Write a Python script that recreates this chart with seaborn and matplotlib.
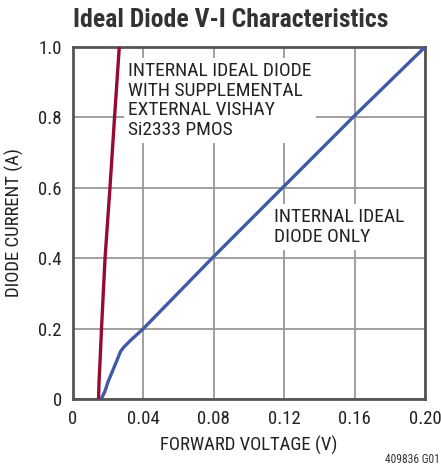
import numpy as np
import pandas as pd
import matplotlib
matplotlib.use('Agg')
import matplotlib.pyplot as plt
from matplotlib import font_manager
import seaborn as sns

# dados (V em volts, I em amperes)
v_ideal = [0.0160, 0.0180, 0.0200, 0.0225, 0.0250, 0.0270, 0.0290, 0.0330, 0.0400,
           0.0800, 0.1200, 0.1600, 0.2000]
i_ideal = [0.000, 0.020, 0.050, 0.080, 0.110, 0.135, 0.148, 0.168, 0.200,
           0.405, 0.605, 0.805, 1.000]

v_pmos = [0.0145, 0.0148, 0.0153, 0.0162, 0.0182, 0.0210, 0.0236, 0.0263]
i_pmos = [0.000, 0.050, 0.100, 0.200, 0.400, 0.600, 0.800, 1.000]

x_ticks = [0, 0.04, 0.08, 0.12, 0.16, 0.20]
x_labels = ['0', '0.04', '0.08', '0.12', '0.16', '0.20']
y_ticks = [0, 0.2, 0.4, 0.6, 0.8, 1.0]
y_labels = ['0', '0.2', '0.4', '0.6', '0.8', '1.0']

df = pd.concat([
    pd.DataFrame({'v': v_ideal, 'i': i_ideal, 'curva': 'ideal'}),
    pd.DataFrame({'v': v_pmos, 'i': i_pmos, 'curva': 'pmos'}),
])

sns.set_style('white')
nomes = {f.name for f in font_manager.fontManager.ttflist}
# fonte estreita se existir, senao Liberation Sans com tamanho menor
if 'Liberation Sans Narrow' in nomes:
    fonte, k = 'Liberation Sans Narrow', 1.0
elif 'Roboto Condensed' in nomes:
    fonte, k = 'Roboto Condensed', 1.0
else:
    fonte, k = 'Liberation Sans', 0.84
plt.rcParams['font.family'] = [fonte, 'DejaVu Sans']

fig = plt.figure(figsize=(4.41, 4.68), dpi=100)
ax = fig.add_axes([73/441, 1 - 399/468, 352/441, 352/468])

sns.lineplot(data=df, x='v', y='i', hue='curva', sort=False, estimator=None,
             palette={'ideal': '#3f5ba8', 'pmos': '#970b30'}, linewidth=2.4,
             legend=False, ax=ax, zorder=3)

ax.set_xlim(0, 0.2)
ax.set_ylim(0, 1.0)
ax.set_xticks(x_ticks)
ax.set_xticklabels(x_labels)
ax.set_yticks(y_ticks)
ax.set_yticklabels(y_labels)
ax.tick_params(length=0, labelsize=13.5 * k, colors='#222222', pad=8)
ax.grid(True, color='#999999', linewidth=1.3)
for s in ax.spines.values():
    s.set_color('#555555')
    s.set_linewidth(2.0)

ax.set_xlabel('FORWARD VOLTAGE (V)', fontsize=13.5 * k, color='#222222', labelpad=5.5)
ax.set_ylabel('DIODE CURRENT (A)', fontsize=13.5 * k, color='#222222', labelpad=10)

caixa = dict(facecolor='white', edgecolor='none', pad=3)
# va='baseline' num texto de varias linhas alinha a ultima linha
ax.text(0.0314, 0.750, 'INTERNAL IDEAL DIODE\nWITH SUPPLEMENTAL\nEXTERNAL VISHAY\nSi2333 PMOS',
        fontsize=14 * k, color='#222222', va='baseline', ha='left', linespacing=1.11,
        bbox=caixa, zorder=4)
ax.text(0.1142, 0.447, 'INTERNAL IDEAL\nDIODE ONLY',
        fontsize=14 * k, color='#222222', va='baseline', ha='left', linespacing=1.11,
        bbox=caixa, zorder=4)

fig.text(0.5227, 1 - 27.3/468, 'Ideal Diode V-I Characteristics', fontsize=18.5 * k,
         fontweight='bold', color='#333333', ha='center', va='baseline')
fig.text(440/441, 1 - 463/468, '409836 G01', fontsize=8.3, color='#333333',
         ha='right', va='baseline')

fig.savefig('out.png', dpi=100)
